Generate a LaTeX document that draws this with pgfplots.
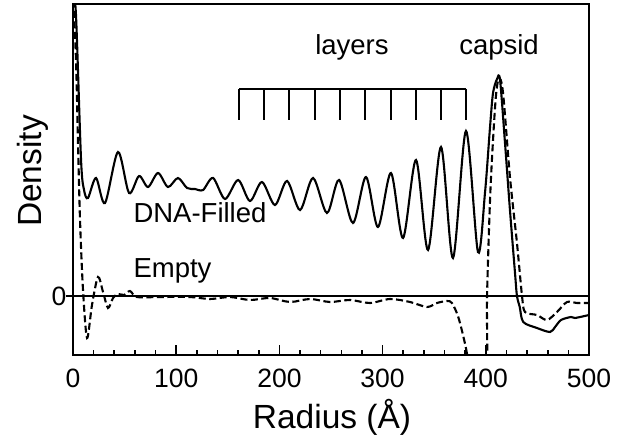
\documentclass[border=0pt]{standalone}
\usepackage{pgfplots}
\pgfplotsset{compat=1.18}
\usepackage{fontspec}
\setmainfont{Liberation Sans}
\begin{document}
\begin{tikzpicture}
\path[use as bounding box] (0,0) rectangle (629pt,436pt);
\begin{axis}[
 at={(73pt,81pt)}, anchor=south west,
 scale only axis, width=516pt, height=351pt,
 xmin=0, xmax=500, ymin=-59, ymax=292,
 xtick={0,100,...,500}, minor x tick num=4,
 ytick={0},
 xtick pos=bottom, ytick pos=left, tick align=inside,
 major tick length=10pt, minor tick length=5pt,
 x tick style={line width=1.6pt, black},
 y tick style={draw=none},
 axis line style={line width=2.2pt},
 tick label style={font=\fontsize{26.5}{30}\selectfont},
 xticklabel style={yshift=-10pt},
 yticklabel style={xshift=-3pt},
 /pgf/number format/assume math mode=true,
 xlabel={Radius (Å)}, ylabel={Density},
 label style={font=\fontsize{33.5}{38}\selectfont},
 xlabel style={at={(axis description cs:0.502,-0.177)}, anchor=center},
 ylabel style={at={(axis description cs:-0.077,0.524)}, anchor=center},
 clip mode=individual,
]
% zero line
\draw[line width=1.3pt] (axis cs:-7,0) -- (axis cs:500,0);
% DNA-filled (solid)
\addplot[smooth, line width=2.1pt, black] coordinates {
(0,300) (2.9,281) (7.8,136) (10.7,106) (14.5,98) (22.3,118) (31,93) (43.6,144)
(54.3,103) (64,120) (72.7,109) (82.4,123) (92,109) (101.7,118) (110.5,108)
(118.2,107) (126,106) (135.7,118) (147.3,97) (160,116) (171.5,95) (183.1,114)
(195.7,91) (207.4,115) (220,86) (232.6,118) (246.1,83) (257.8,116) (271.3,73)
(283.9,119) (295.5,69) (308.1,123) (319.8,58) (332.4,136) (344,46) (356.6,149)
(368.2,38) (380.8,165) (392.4,44) (399.2,103) (404.1,169) (407,203) (410.9,217)
(413.8,216) (418.6,153) (423.4,86) (428.3,23) (430.2,0) (432.9,-11) (436.3,-26)
(449.6,-32) (462.2,-36) (467.1,-31) (472.9,-24) (482.6,-21) (486.4,-22) (500,-19)
};
% Empty (dashed)
\addplot[smooth, line width=2.1pt, black, dash pattern=on 7pt off 3.5pt] coordinates {
(0,306) (2.9,236) (4.8,156) (6.8,76) (9.7,6) (13.6,-42) (18.4,-9) (24.2,19)
(29.1,4) (33.9,-12) (38.8,-2) (43.6,2) (49.4,1) (55.2,5) (62,-1) (84.3,-1)
(113.4,-1) (132.8,-3) (152.1,-1) (171.5,-4) (190.9,-2) (210.3,-6) (229.7,-3)
(249,-6) (268.4,-4) (287.8,-7) (307.2,-3) (326.6,-6) (343,-11) (352.7,-7)
(362.4,-5) (367.2,-7) (373,-20) (377.9,-39) (381.8,-58) (384.7,-84)
(400.2,-84) (401.2,0) (404.1,96) (407,156) (409.9,201) (412.8,218) (416.7,203)
(423.4,119) (430.2,53) (435.1,0) (438,-16) (449.6,-19) (459.3,-24) (469,-16)
(478.7,-6) (488.4,-7) (500,-7)
};
% layers bracket
\draw[line width=1.6pt] (axis cs:160.9,207) -- (axis cs:380.8,207);
\draw[line width=1.6pt] (axis cs:160.9,207) -- (axis cs:160.9,176);
\draw[line width=1.6pt] (axis cs:185.1,207) -- (axis cs:185.1,176);
\draw[line width=1.6pt] (axis cs:209.3,207) -- (axis cs:209.3,176);
\draw[line width=1.6pt] (axis cs:234.5,207) -- (axis cs:234.5,176);
\draw[line width=1.6pt] (axis cs:258.7,207) -- (axis cs:258.7,176);
\draw[line width=1.6pt] (axis cs:282.9,207) -- (axis cs:282.9,176);
\draw[line width=1.6pt] (axis cs:308.1,207) -- (axis cs:308.1,176);
\draw[line width=1.6pt] (axis cs:332.4,207) -- (axis cs:332.4,176);
\draw[line width=1.6pt] (axis cs:356.6,207) -- (axis cs:356.6,176);
\draw[line width=1.6pt] (axis cs:380.8,207) -- (axis cs:380.8,176);
\node[anchor=base, font=\fontsize{27.5}{31}\selectfont] at (axis cs:270.3,241) {layers};
\node[anchor=base, font=\fontsize{27.5}{31}\selectfont] at (axis cs:412.8,241) {capsid};
\node[anchor=base west, font=\fontsize{27.5}{31}\selectfont] at (axis cs:55.2,73) {DNA-Filled};
\node[anchor=base west, font=\fontsize{27.5}{31}\selectfont] at (axis cs:55.2,18) {Empty};
\end{axis}
\end{tikzpicture}
\end{document}
